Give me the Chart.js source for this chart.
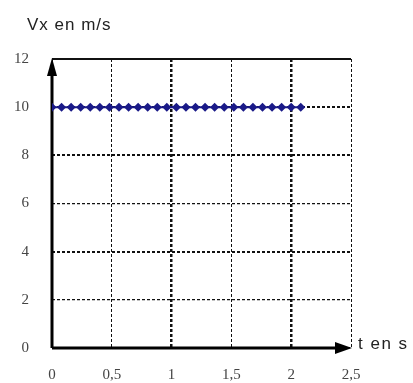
<!DOCTYPE html>
<html>
<head>
<meta charset="utf-8">
<script src="https://cdn.jsdelivr.net/npm/chart.js@4/dist/chart.umd.min.js"></script>
<style>
html,body{margin:0;padding:0;background:#fff;}
#c{display:block;}
</style>
</head>
<body>
<canvas id="c" width="413" height="383"></canvas>
<script>
// ---- data ----
const timeValues = [0, 0.08, 0.16, 0.24, 0.32, 0.40, 0.48, 0.56, 0.64, 0.72, 0.80, 0.88, 0.96, 1.04, 1.12, 1.20, 1.28, 1.36, 1.44, 1.52, 1.60, 1.68, 1.76, 1.84, 1.92, 2.00, 2.08];
const vxValues   = [10, 10, 10, 10, 10, 10, 10, 10, 10, 10, 10, 10, 10, 10, 10, 10, 10, 10, 10, 10, 10, 10, 10, 10, 10, 10, 10];
const xTickLabels = {0: '0', 0.5: '0,5', 1: '1', 1.5: '1,5', 2: '2', 2.5: '2,5'};
const yTickLabels = {0: '0', 2: '2', 4: '4', 6: '6', 8: '8', 10: '10', 12: '12'};
const yAxisTitle = 'Vx en m/s';
const xAxisTitle = 't en s';

const points = timeValues.map((t, i) => ({x: t, y: vxValues[i]}));

const axesPlugin = {
  id: 'axesPlugin',
  beforeDatasetsDraw(chart) {
    const ctx = chart.ctx;
    const xs = chart.scales.x, ys = chart.scales.y;
    const x0 = xs.getPixelForValue(0), xMax = xs.getPixelForValue(2.5);
    const y0 = ys.getPixelForValue(0), yMax = ys.getPixelForValue(12);
    ctx.save();
    ctx.strokeStyle = '#111';
    ctx.lineWidth = 2;
    ctx.beginPath();
    ctx.moveTo(x0, yMax); ctx.lineTo(xMax, yMax);
    ctx.stroke();
    ctx.lineWidth = 3;
    ctx.strokeStyle = '#000';
    ctx.beginPath();
    ctx.moveTo(x0, y0); ctx.lineTo(x0, yMax + 8);
    ctx.moveTo(x0, y0); ctx.lineTo(xMax - 8, y0);
    ctx.stroke();
    ctx.fillStyle = '#000';
    ctx.beginPath();
    ctx.moveTo(x0, yMax - 1);
    ctx.lineTo(x0 - 5, yMax + 17);
    ctx.lineTo(x0 + 5, yMax + 17);
    ctx.closePath();
    ctx.fill();
    ctx.beginPath();
    ctx.moveTo(xMax + 1, y0);
    ctx.lineTo(xMax - 16, y0 - 6);
    ctx.lineTo(xMax - 16, y0 + 6);
    ctx.closePath();
    ctx.fill();
    ctx.restore();
  },
  afterDraw(chart) {
    const ctx = chart.ctx;
    const xs = chart.scales.x, ys = chart.scales.y;
    ctx.save();
    ctx.fillStyle = '#222';
    ctx.textBaseline = 'alphabetic';
    ctx.textAlign = 'left';
    ctx.font = '17px "Liberation Sans", Arial, sans-serif';
    try { ctx.letterSpacing = '1px'; } catch (e) {}
    ctx.fillText(yAxisTitle, 27, 30);
    ctx.font = '17px "Liberation Sans", Arial, sans-serif';
    try { ctx.letterSpacing = '1.5px'; } catch (e) {}
    ctx.fillText(xAxisTitle, xs.getPixelForValue(2.5) + 7, ys.getPixelForValue(0) + 1);
    ctx.restore();
  }
};

new Chart(document.getElementById('c'), {
  type: 'line',
  data: {
    datasets: [{
      data: points,
      borderColor: '#1a1a88',
      backgroundColor: '#1a1a88',
      borderWidth: 2,
      pointStyle: 'rectRot',
      pointRadius: 4.5,
      pointBorderWidth: 0,
      fill: false,
      tension: 0
    }]
  },
  options: {
    responsive: false,
    animation: false,
    devicePixelRatio: 1,
    layout: {padding: {top: 59, right: 62, left: 0, bottom: 0}},
    plugins: {legend: {display: false}, tooltip: {enabled: false}, title: {display: false}},
    scales: {
      x: {
        type: 'linear',
        min: 0, max: 2.5,
        afterFit(s) { s.height = 35; },
        border: {display: false, dash: [3, 2]},
        grid: {
          color: '#111',
          drawTicks: false,
          lineWidth: c => (c.tick && (c.tick.value === 1 || c.tick.value === 2)) ? 2.5 : 1
        },
        ticks: {
          stepSize: 0.5,
          padding: 18,
          color: '#444',
          font: {family: '"Liberation Serif", "Times New Roman", serif', size: 15},
          callback: v => xTickLabels[v] !== undefined ? xTickLabels[v] : ''
        }
      },
      y: {
        min: 0, max: 12,
        afterFit(s) { s.width = 52; },
        border: {display: false, dash: [3, 2]},
        grid: {
          color: '#111',
          drawTicks: false,
          lineWidth: c => (c.tick && (c.tick.value === 4 || c.tick.value === 8 || c.tick.value === 10)) ? 2 : 1.2
        },
        ticks: {
          stepSize: 2,
          padding: 23,
          color: '#444',
          font: {family: '"Liberation Serif", "Times New Roman", serif', size: 15},
          callback: v => yTickLabels[v] !== undefined ? yTickLabels[v] : ''
        }
      }
    }
  },
  plugins: [axesPlugin]
});
</script>
</body>
</html>
